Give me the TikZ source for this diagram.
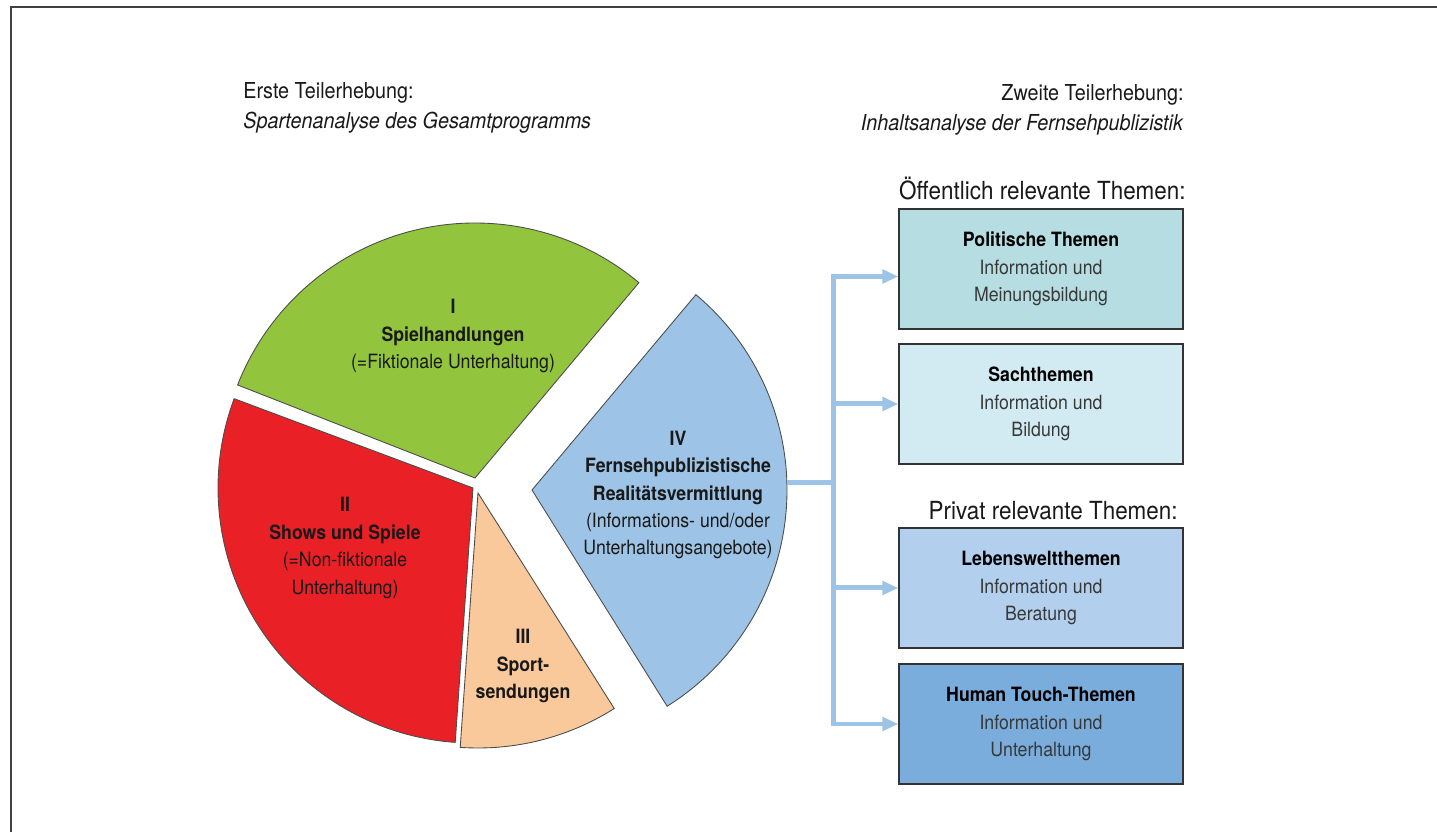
\documentclass[tikz,border=0pt]{standalone}
\usepackage{fontspec}
\setmainfont{TeX Gyre Heros}[FakeStretch=0.9]
\usetikzlibrary{arrows.meta}

\definecolor{spiel}{RGB}{147,196,62}
\definecolor{shows}{RGB}{234,32,39}
\definecolor{sport}{RGB}{249,200,155}
\definecolor{fern}{RGB}{157,195,230}
\definecolor{polit}{RGB}{182,221,226}
\definecolor{sach}{RGB}{210,235,242}
\definecolor{leben}{RGB}{178,208,238}
\definecolor{human}{RGB}{122,172,220}
\definecolor{connblue}{RGB}{157,195,230}

\newcommand\hdrfont{\fontsize{12.5pt}{17pt}\selectfont}
\newcommand\themfont{\fontsize{14.2pt}{17pt}\selectfont}
\newcommand\piefont{\fontsize{11.2pt}{15.6pt}\selectfont}

\begin{document}
\begin{tikzpicture}[x=0.02cm,y=0.02cm,
  slice/.style={draw=black!70,line width=0.5pt},
  pietext/.style={align=center,font=\piefont,text=black!90,inner sep=0pt},
  themebox/.style={draw=black!80,line width=0.8pt,minimum width=5.68cm,minimum height=2.4cm,align=center,font=\piefont,text=black!78},
  conn/.style={draw=connblue,line width=0.1cm},
  tip/.style={-{Triangle[length=0.32cm,width=0.27cm]}}]
\useasboundingbox (0,0) rectangle (1437,832);
\draw[black!75,line width=0.055cm] (11,0) -- (11,825) -- (1437,825);

\node[anchor=north west,align=left,font=\hdrfont,text=black!90,inner sep=0pt] (erste) at (243,750) {Erste Teilerhebung:\\\textit{Spartenanalyse des Gesamtprogramms}};
\node[anchor=north east,align=right,font=\hdrfont,text=black!90,inner sep=0pt] (zweite) at (1184,748) {Zweite Teilerhebung:\\\textit{Inhaltsanalyse der Fernsehpublizistik}};

% Spartenanalyse (Kreis)
\draw[slice,fill=spiel] (475,354) -- ++(50:255) arc[start angle=50,end angle=158.6,radius=255] -- cycle;
\draw[slice,fill=shows] (473,344) -- ++(159.5:255) arc[start angle=159.5,end angle=266,radius=255] -- cycle;
\draw[slice,fill=sport] (478,339) -- ++(266:255) arc[start angle=266,end angle=302.3,radius=255] -- cycle;
\draw[slice,fill=fern] (532,342) -- ++(-58:255) arc[start angle=-58,end angle=50,radius=255] -- cycle;

\node[pietext] (spielt) at (453,496) {\textbf{I}\\\textbf{Spielhandlungen}\\(=Fiktionale Unterhaltung)};
\node[pietext] (showst) at (345,284) {\textbf{II}\\\textbf{Shows und Spiele}\\(=Non-fiktionale\\Unterhaltung)};
\node[pietext] (sportt) at (523,166) {\textbf{III}\\\textbf{Sport-}\\\textbf{sendungen}};
\node[pietext] (fernt) at (678,337) {\textbf{IV}\\\textbf{Fernsehpublizistische}\\\textbf{Realitätsvermittlung}\\(Informations- und/oder\\Unterhaltungsangebote)};

% Inhaltsanalyse (Themen)
\node[anchor=base east,font=\themfont,text=black!90,inner sep=0pt] (oeff) at (1186,632) {Öffentlich relevante Themen:};
\node[anchor=base east,font=\themfont,text=black!90,inner sep=0pt] (priv) at (1178,312) {Privat relevante Themen:};

\node[themebox,fill=polit] (pol) at (1041,563) {\textcolor{black}{\textbf{Politische Themen}}\\Information und\\Meinungsbildung};
\node[themebox,fill=sach] (sth) at (1041,428) {\textcolor{black}{\textbf{Sachthemen}}\\Information und\\Bildung};
\node[themebox,fill=leben] (lwt) at (1041,244) {\textcolor{black}{\textbf{Lebensweltthemen}}\\Information und\\Beratung};
\node[themebox,fill=human] (htt) at (1041,108) {\textcolor{black}{\textbf{Human Touch-Themen}}\\Information und\\Unterhaltung};

\coordinate (ivout) at (787,349);
\coordinate (hub) at (833,349);
\draw[conn] (ivout) -- (hub);
\draw[conn,tip] (hub) |- ([yshift=-0.15cm]pol.west);
\draw[conn,tip] (hub) |- (sth.west);
\draw[conn,tip] (hub) |- (lwt.west);
\draw[conn,tip] (hub) |- (htt.west);
\end{tikzpicture}
\end{document}
